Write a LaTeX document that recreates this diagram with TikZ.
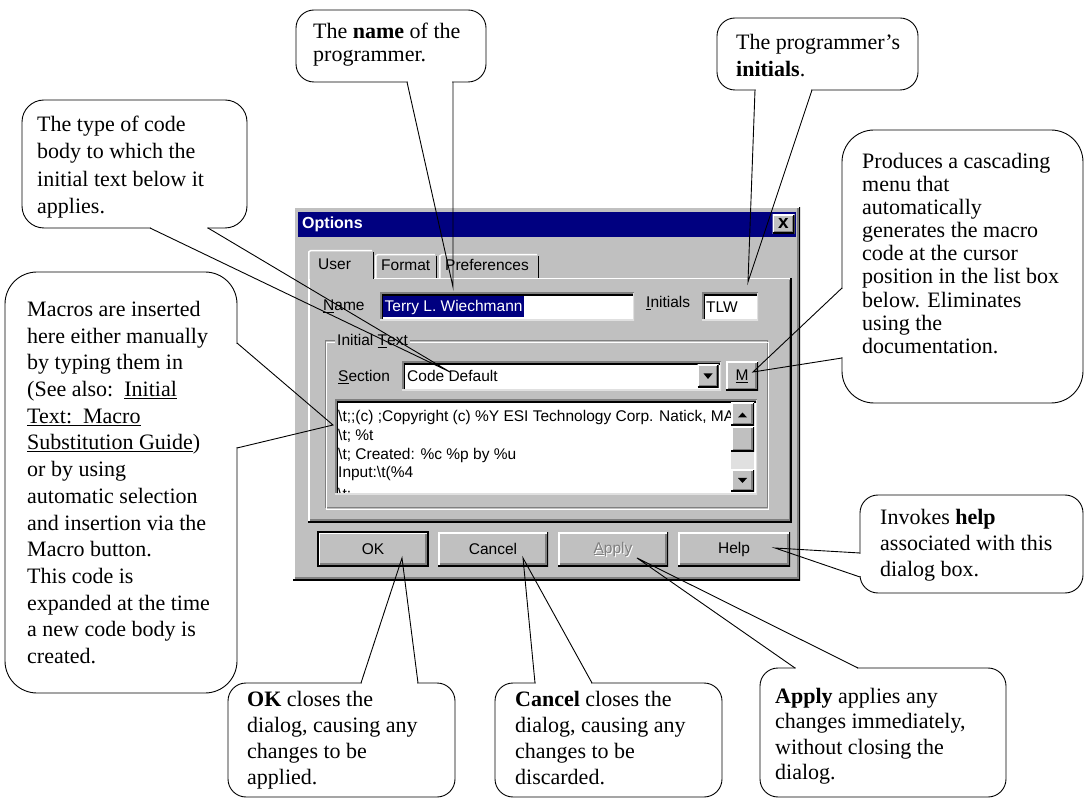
\documentclass[tikz,border=0pt]{standalone}
\usepackage{fontspec}
\setmainfont{Liberation Serif}
\setsansfont{Liberation Sans}
\definecolor{dlggray}{RGB}{192,192,192}
\definecolor{dkgray}{RGB}{128,128,128}
\definecolor{ltgray}{RGB}{224,224,224}
\definecolor{titlenavy}{RGB}{0,0,128}
\newcommand{\calloutfont}[1]{\fontsize{22}{#1}\selectfont}
\newcommand{\uifont}{\sffamily\fontsize{15.5}{18}\selectfont}
\tikzset{
  bubble/.style={draw=black, fill=white, line width=0.9pt, rounded corners=#1, inner sep=0pt},
  bubble/.default=18pt,
  bubbletext/.style={anchor=north west, align=left, inner sep=0pt, font=\calloutfont{#1}},
  bubbletext/.default=26.7pt,
  pointer/.style={draw=black, line width=0.9pt},
  gap/.style={draw=white, line width=2.8pt, shorten <=0.6pt, shorten >=0.6pt},
  uitext/.style={font=\uifont, inner sep=0pt},
  raised/.style={fill=dlggray, draw=none, inner sep=0pt,
    path picture={
      \draw[white,line width=3pt] (path picture bounding box.south west) -- (path picture bounding box.north west) -- (path picture bounding box.north east);
      \draw[black,line width=3pt] (path picture bounding box.south west) -- (path picture bounding box.south east) -- (path picture bounding box.north east);
      \draw[dkgray,line width=1.5pt] ([shift={(1.5pt,2.25pt)}]path picture bounding box.south west) -- ([shift={(-2.25pt,2.25pt)}]path picture bounding box.south east) -- ([shift={(-2.25pt,-1.5pt)}]path picture bounding box.north east);
    }},
  sunken/.style={fill=white, draw=none, inner sep=0pt,
    path picture={
      \draw[dkgray,line width=3pt] (path picture bounding box.south west) -- (path picture bounding box.north west) -- (path picture bounding box.north east);
      \draw[ltgray,line width=3pt] (path picture bounding box.south west) -- (path picture bounding box.south east) -- (path picture bounding box.north east);
      \draw[black,line width=1.5pt] ([shift={(2.25pt,1.5pt)}]path picture bounding box.south west) -- ([shift={(2.25pt,-2.25pt)}]path picture bounding box.north west) -- ([shift={(-1.5pt,-2.25pt)}]path picture bounding box.north east);
    }},
}
\begin{document}
\begin{tikzpicture}[x=1pt,y=-1pt]
\fill[white] (0,0) rectangle (1085,799);
\useasboundingbox (0,0) rectangle (1085,799);

% ---------------- dialog window ----------------
\node[raised, minimum width=507, minimum height=373] (dialog) at (546.5,393.5) {};
\node[fill=titlenavy, inner sep=0pt, minimum width=498, minimum height=25] (titlebar) at (547,224.5) {};
\node[anchor=west, inner sep=0pt, text=white, font=\sffamily\bfseries\fontsize{16}{18}\selectfont] (title) at (302,224.5) {Options};
\node[raised, minimum width=22, minimum height=19] (closebtn) at (783.5,224.5) {};
\node[inner sep=0pt, font=\sffamily\bfseries\fontsize{19}{19}\selectfont] at ([yshift=1pt]closebtn.center) {x};

% tabs
\fill[dlggray] (308,280) -- (308,252) -- (310,250) -- (372,250) -- (374,252) -- (374,280) -- cycle;
\draw[white, line width=1.5pt] (308.75,280) -- (308.75,252) -- (310.5,250.75) -- (372,250.75);
\draw[black, line width=1.5pt] (373.5,252) -- (373.5,279);
\draw[white, line width=1.5pt] (375.75,278) -- (375.75,256) -- (377.5,254.75) -- (435,254.75);
\draw[black, line width=1.5pt] (436.5,256) -- (436.5,278);
\draw[white, line width=1.5pt] (439.75,278) -- (439.75,256) -- (441.5,254.75) -- (537,254.75);
\draw[black, line width=1.5pt] (538.5,256) -- (538.5,278);
\node[uitext, anchor=base west] (tabuser) at (318,270) {User};
\node[uitext, anchor=base west] (tabformat) at (381,271) {Format};
\node[uitext, anchor=base west] (tabpref) at (445,271) {Preferences};

% tab page
\draw[white, line width=1.5pt] (308.75,522) -- (308.75,278.75);
\draw[white, line width=1.5pt] (374,278.75) -- (790,278.75);
\draw[black, line width=1.5pt] (790.75,278) -- (790.75,521.75) -- (308,521.75);
\draw[dkgray, line width=1.5pt] (789.25,280) -- (789.25,520.25) -- (310,520.25);

% name and initials
\node[uitext, anchor=base west] (namelbl) at (323,311) {\underline{N}ame};
\node[sunken, minimum width=254, minimum height=28] (namefld) at (507,307) {};
\node[uitext, anchor=west, fill=titlenavy, text=white, inner xsep=1.5pt, minimum height=21] (namesel) at (383,307) {Terry L. Wiechmann};
\node[uitext, anchor=base west] (initlbl) at (646,308) {\underline{I}nitials};
\node[sunken, minimum width=56, minimum height=28] (initfld) at (730,307) {};
\node[uitext, anchor=base west] (initval) at (706,313) {TLW};

% initial text group
\draw[dkgray, line width=1pt] (325,341) rectangle (767,508);
\draw[white, line width=1pt] (326.5,342.5) rectangle (768.5,509.5);
\node[uitext, anchor=west, fill=dlggray, inner xsep=2pt] (grplbl) at (335,341) {Initial \underline{T}ext};
\node[uitext, anchor=base west] (seclbl) at (338,382) {\underline{S}ection};
\node[sunken, minimum width=319, minimum height=29] (combo) at (561.5,376.5) {};
\node[uitext, anchor=base west] (comboval) at (407,382) {Code Default};
\node[raised, minimum width=21, minimum height=23] (dropbtn) at (708,376.5) {};
\fill[black] (703.5,373.5) -- (712.5,373.5) -- (708,379) -- cycle;
\node[raised, minimum width=32, minimum height=29, font=\uifont] (mbtn) at (742,376.5) {\underline{M}};

% list box with scroll bar
\node[sunken, minimum width=422, minimum height=95] (listbox) at (546,447.5) {};
\begin{scope}
  \clip (337.5,402.5) rectangle (731,492.5);
  \node[uitext, anchor=base west] (l1) at (338,422) {\textbackslash t;;(c) ;Copyright (c) \%Y ESI Technology Corp. Natick, MA};
  \node[uitext, anchor=base west] (l2) at (338,440.5) {\textbackslash t; \%t};
  \node[uitext, anchor=base west] (l3) at (338,459.5) {\textbackslash t; Created: \%c \%p by \%u};
  \node[uitext, anchor=base west] (l4) at (338,478) {Input:\textbackslash t(\%4};
  \node[uitext, anchor=base west] (l5) at (338,500) {\textbackslash t;};
\end{scope}
\fill[ltgray] (731,426) rectangle (754,470);
\node[raised, minimum width=23, minimum height=23] (scrollup) at (742.5,414.5) {};
\fill[black] (738,417.5) -- (747,417.5) -- (742.5,412.5) -- cycle;
\node[raised, minimum width=23, minimum height=25] (thumb) at (742.5,439.5) {};
\node[raised, minimum width=23, minimum height=22] (scrolldn) at (742.5,481) {};
\fill[black] (738,478) -- (747,478) -- (742.5,483) -- cycle;

% command buttons
\node[raised, minimum width=110, minimum height=34, font=\uifont] (okbtn) at (373,549) {OK};
\draw[black, line width=1.5pt] (okbtn.south west) rectangle (okbtn.north east);
\node[raised, minimum width=110, minimum height=34, font=\uifont] (cancelbtn) at (493,549) {Cancel};
\node[raised, minimum width=110, minimum height=34] (applybtn) at (613,549) {};
\node[uitext, text=white] at ([shift={(1pt,-1pt)}]applybtn.center) {\underline{A}pply};
\node[uitext, text=dkgray] (applylbl) at (applybtn.center) {\underline{A}pply};
\node[raised, minimum width=112, minimum height=34, font=\uifont] (helpbtn) at (734,549) {Help};

% ---------------- callout bodies ----------------
\node[bubble, minimum width=190, minimum height=72] (cname) at (391,46) {};
\node[bubbletext=23pt] (tname) at (313,23) {The \textbf{name} of the\\programmer.};

\node[bubble, minimum width=201, minimum height=72] (cinit) at (817.5,54) {};
\node[bubbletext=27pt] (tinit) at (736,34) {The programmer's\\\textbf{initials}.};

\node[bubble=22pt, minimum width=225, minimum height=128] (ctype) at (134.5,164) {};
\node[bubbletext=27.3pt] (ttype) at (37,116) {The type of code\\body to which the\\initial text below it\\applies.};

\node[bubble=32pt, minimum width=232, minimum height=421] (cmacro) at (121,482.5) {};
\node[bubbletext=26.7pt] (tmacro) at (27,301) {Macros are inserted\\here either manually\\by typing them in\\(See also:\ \ \underline{Initial}\\\underline{Text:\ \ Macro}\\\underline{Substitution Guide})\\or by using\\automatic selection\\and insertion via the\\Macro button.\\This code is\\expanded at the time\\a new code body is\\created.};

\node[bubble=32pt, minimum width=241, minimum height=273] (cprod) at (962.5,266.5) {};
\node[bubbletext=23.1pt] (tprod) at (862,153) {Produces a cascading\\menu that\\automatically\\generates the macro\\code at the cursor\\position in the list box\\below. Eliminates\\using the\\documentation.};

\node[bubble, minimum width=223, minimum height=98] (chelp) at (971.5,544) {};
\node[bubbletext=26pt] (thelp) at (880,509) {Invokes \textbf{help}\\associated with this\\dialog box.};

\node[bubble, minimum width=227, minimum height=114] (cok) at (341.5,740) {};
\node[bubbletext=26pt] (tok) at (247,691) {\textbf{OK} closes the\\dialog, causing any\\changes to be\\applied.};

\node[bubble, minimum width=227, minimum height=114] (ccancel) at (608.5,740) {};
\node[bubbletext=26pt] (tcancel) at (515,691) {\textbf{Cancel} closes the\\dialog, causing any\\changes to be\\discarded.};

\node[bubble, minimum width=246, minimum height=129] (capply) at (883,732.5) {};
\node[bubbletext=25.5pt] (tapply) at (775,688) {\textbf{Apply} applies any\\changes immediately,\\without closing the\\dialog.};

% ---------------- pointers ----------------
\coordinate (nameA) at (407,82);   \coordinate (nameB) at (453,82);   \coordinate (nameTip) at (453,287);
\coordinate (initA) at (755,90);   \coordinate (initB) at (812,90);   \coordinate (initTip) at (748,282);
\coordinate (typeA) at (150,228);  \coordinate (typeB) at (208,228);  \coordinate (typeTip) at (450,372);
\coordinate (macA) at (237,343);   \coordinate (macB) at (237,448);   \coordinate (macTip) at (333,425);
\coordinate (prodA) at (842,288);  \coordinate (prodB) at (842,358);  \coordinate (prodTip) at (753,372);
\coordinate (helpA) at (860,553);  \coordinate (helpB) at (860,577);  \coordinate (helpTip) at (775,548);
\coordinate (okA) at (361,683);    \coordinate (okB) at (418,683);    \coordinate (okTip) at (402,558);
\coordinate (canA) at (535,683);   \coordinate (canB) at (592,683);   \coordinate (canTip) at (523,558);
\coordinate (appA) at (795,668);   \coordinate (appB) at (858,668);   \coordinate (appTip) at (637,558);

\foreach \p in {name,init,type,mac,prod,help,ok,can,app}{
  \draw[gap] (\p A) -- (\p B);
  \draw[pointer] (\p A) -- (\p Tip) -- (\p B);
}
\end{tikzpicture}
\end{document}
